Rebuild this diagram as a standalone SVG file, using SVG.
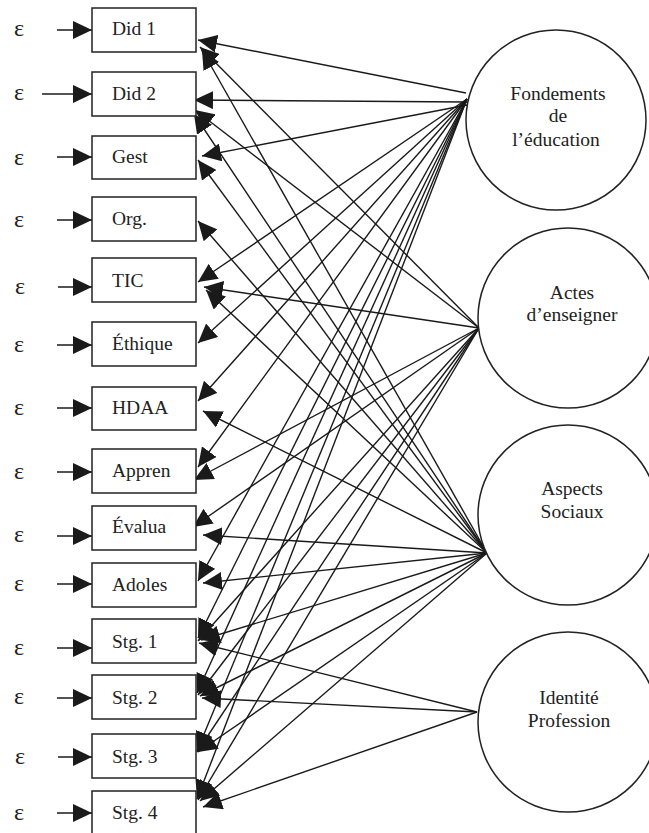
<svg xmlns="http://www.w3.org/2000/svg" width="649" height="833" viewBox="0 0 649 833">
<style>
.box{fill:#fff;stroke:#222;stroke-width:1.5}
.circ{fill:#fff;stroke:#222;stroke-width:1.5}
.t{font-family:"Liberation Serif","Times New Roman",serif;font-size:19.5px;fill:#222}
.c{text-anchor:middle}
.e{font-family:"Liberation Serif","Times New Roman",serif;font-size:24px;fill:#222}
#connectors path{fill:none;stroke:#1a1a1a;stroke-width:1.4;marker-end:url(#ah)}
</style>
<defs>
<marker id="ah" markerUnits="userSpaceOnUse" markerWidth="20" markerHeight="18" refX="19" refY="9" orient="auto">
<path d="M0,0 L19,9 L0,18 z" fill="#1a1a1a"/>
</marker>
</defs>
<rect width="649" height="833" fill="#fff"/>

<g id="connectors">
<!-- error terms -->
<path d="M57,30 L92,30"/>
<path d="M42,94 L92,94"/>
<path d="M57,157 L92,157"/>
<path d="M57,220 L92,220"/>
<path d="M58,287 L92,287"/>
<path d="M57,345 L92,345"/>
<path d="M57,408 L92,408"/>
<path d="M57,472 L92,472"/>
<path d="M57,536 L92,536"/>
<path d="M57,584 L92,584"/>
<path d="M57,648 L92,648"/>
<path d="M57,698 L92,698"/>
<path d="M58,757 L92,757"/>
<path d="M57,813 L92,813"/>
<!-- Fondements -->
<path d="M466,93 L198,40"/>
<path d="M467,102 L194,100"/>
<path d="M467,105 L202,156"/>
<path d="M467,99 L198,282"/>
<path d="M467,99 L198,343"/>
<path d="M467,99 L198,401"/>
<path d="M467,99 L198,467"/>
<path d="M467,99 L198,581"/>
<path d="M467,99 L198,638"/>
<path d="M467,99 L197,693"/>
<path d="M467,99 L197,751"/>
<path d="M467,99 L197,799"/>
<!-- Actes -->
<path d="M479,328 L200,47"/>
<path d="M479,328 L195,110"/>
<path d="M479,328 L204,287"/>
<path d="M479,328 L194,480"/>
<path d="M479,328 L193,527"/>
<path d="M479,328 L198,641"/>
<path d="M479,328 L198,695"/>
<path d="M479,328 L197,752"/>
<path d="M479,328 L198,800"/>
<!-- Aspects -->
<path d="M487,553 L202,50"/>
<path d="M487,553 L194,114"/>
<path d="M487,553 L198,160"/>
<path d="M487,553 L198,221"/>
<path d="M487,553 L206,290"/>
<path d="M487,553 L203,411"/>
<path d="M487,553 L203,535"/>
<path d="M487,553 L203,583"/>
<path d="M487,553 L201,640"/>
<path d="M487,553 L200,696"/>
<path d="M487,553 L198,752"/>
<path d="M487,553 L200,801"/>
<!-- Identite -->
<path d="M477,712 L199,643"/>
<path d="M477,712 L202,698"/>
<path d="M477,712 L203,807"/>
</g>

<g id="eps">
<text class="e" x="14" y="36">ε</text>
<text class="e" x="14" y="100">ε</text>
<text class="e" x="14" y="165">ε</text>
<text class="e" x="14" y="227">ε</text>
<text class="e" x="15" y="294">ε</text>
<text class="e" x="14" y="352">ε</text>
<text class="e" x="14" y="415">ε</text>
<text class="e" x="14" y="479">ε</text>
<text class="e" x="14" y="542">ε</text>
<text class="e" x="14" y="591">ε</text>
<text class="e" x="14" y="655">ε</text>
<text class="e" x="14" y="704">ε</text>
<text class="e" x="15" y="764">ε</text>
<text class="e" x="14" y="820">ε</text>
</g>

<g id="n-did1"><rect class="box" x="92" y="8" width="104" height="44"/><text class="t" x="112" y="35">Did 1</text></g>
<g id="n-did2"><rect class="box" x="92" y="72" width="104" height="44"/><text class="t" x="112" y="100">Did 2</text></g>
<g id="n-gest"><rect class="box" x="92" y="136" width="104" height="43"/><text class="t" x="112" y="163">Gest</text></g>
<g id="n-org"><rect class="box" x="92" y="197" width="104" height="44"/><text class="t" x="112" y="225">Org.</text></g>
<g id="n-tic"><rect class="box" x="92" y="258" width="104" height="44"/><text class="t" x="112" y="287">TIC</text></g>
<g id="n-ethique"><rect class="box" x="92" y="322" width="104" height="44"/><text class="t" x="112" y="350">Éthique</text></g>
<g id="n-hdaa"><rect class="box" x="92" y="387" width="104" height="43"/><text class="t" x="112" y="414">HDAA</text></g>
<g id="n-appren"><rect class="box" x="92" y="449" width="104" height="44"/><text class="t" x="112" y="477">Appren</text></g>
<g id="n-evalua"><rect class="box" x="92" y="506" width="104" height="44"/><text class="t" x="112" y="533">Évalua</text></g>
<g id="n-adoles"><rect class="box" x="92" y="563" width="104" height="44"/><text class="t" x="112" y="591">Adoles</text></g>
<g id="n-stg1"><rect class="box" x="92" y="619" width="104" height="44"/><text class="t" x="112" y="648">Stg. 1</text></g>
<g id="n-stg2"><rect class="box" x="92" y="675" width="104" height="44"/><text class="t" x="112" y="704">Stg. 2</text></g>
<g id="n-stg3"><rect class="box" x="92" y="734" width="104" height="44"/><text class="t" x="112" y="763">Stg. 3</text></g>
<g id="n-stg4"><rect class="box" x="92" y="791" width="104" height="48"/><text class="t" x="112" y="819">Stg. 4</text></g>

<g id="n-fondements"><circle class="circ" cx="556" cy="120" r="90"/>
<text class="t c" x="558" y="100">Fondements</text><text class="t c" x="558" y="122">de</text><text class="t c" x="556" y="146">l’éducation</text></g>
<g id="n-actes"><circle class="circ" cx="568" cy="318" r="90"/>
<text class="t c" x="572" y="299">Actes</text><text class="t c" x="572" y="321">d’enseigner</text></g>
<g id="n-aspects"><circle class="circ" cx="568" cy="515" r="90"/>
<text class="t c" x="572" y="495">Aspects</text><text class="t c" x="572" y="518">Sociaux</text></g>
<g id="n-identite"><circle class="circ" cx="568" cy="722" r="90"/>
<text class="t c" x="569" y="704">Identité</text><text class="t c" x="569" y="727">Profession</text></g>
</svg>
